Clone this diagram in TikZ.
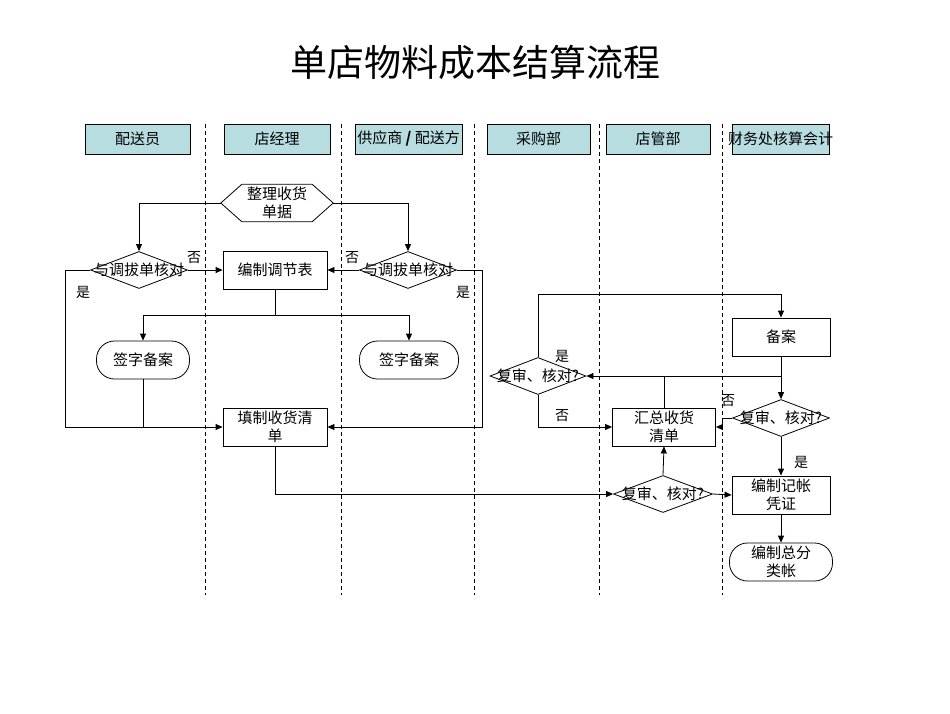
\documentclass[tikz,border=0pt]{standalone}
\usepackage{fontspec}
\setmainfont{Noto Sans CJK SC}
\usetikzlibrary{arrows.meta,shapes.geometric,calc}
\definecolor{hdr}{RGB}{183,221,225}
\tikzset{
  every node/.style={font=\fontsize{15}{18}\selectfont, inner sep=0pt},
  hdrbox/.style={draw, fill=hdr, minimum width=#1, minimum height=30, line width=0.9pt},
  procbox/.style={draw, line width=0.8pt, minimum width=#1, minimum height=38, align=center},
  termbox/.style={draw, line width=0.8pt, rounded corners=18, minimum width=#1, minimum height=38, align=center},
  dec/.style={draw, line width=0.8pt, diamond, minimum width=#1, minimum height=37},
  lane/.style={line width=0.7pt, dash pattern=on 4pt off 3pt},
  conn/.style={line width=0.8pt},
  arr/.style={-{Triangle[length=7pt,width=6pt]}},
  lbl/.style={font=\fontsize{14}{16}\selectfont},
}
\begin{document}
\begin{tikzpicture}[x=1pt,y=-1pt]
\useasboundingbox (0,0) rectangle (950,713);

% title
\node[font=\fontsize{37}{40}\selectfont] (title) at (475,62) {单店物料成本结算流程};

% headers
\node[hdrbox=105] (h1) at (137.5,139) {配送员};
\node[hdrbox=106] (h2) at (277,139) {店经理};
\node[hdrbox=107] (h3) at (408.5,139) {供应商 \textbf{/} 配送方};
\node[hdrbox=103] (h4) at (538.5,139) {采购部};
\node[hdrbox=104] (h5) at (658,139) {店管部};
\node[hdrbox=97] (h6) at (780.5,139) {};
\node (h6t) at (780.5,139) {财务处核算会计};

% lanes
\foreach \x/\n in {205/l1,341/l2,474/l3,599/l4,722/l5}{
  \coordinate (\n a) at (\x,124);
  \coordinate (\n b) at (\x,595);
  \draw[lane] (\n a) -- (\n b);
}

% hexagon
\node[minimum width=112, minimum height=37, align=center] (sort) at (277,203) {整理收货\\单据};
\draw[line width=0.8pt] (sort.west) -- ($(sort.north west)+(21,0)$) -- ($(sort.north east)+(-21,0)$)
  -- (sort.east) -- ($(sort.south east)+(-21,0)$) -- ($(sort.south west)+(21,0)$) -- cycle;

% left part nodes
\node[dec=97] (d1) at (139,270) {};
\node (d1t) at (139,270) {与调拔单核对};
\node[procbox=104] (adj) at (275,270) {编制调节表};
\node[dec=97] (d2) at (408,270) {};
\node (d2t) at (408,270) {与调拔单核对};
\node[termbox=93] (s1) at (143,360) {签字备案};
\node[termbox=99] (s2) at (409,360) {签字备案};
\node[procbox=104] (fill) at (275,427) {填制收货清\\单};

% right part nodes
\node[dec=96] (d3) at (538,376) {};
\node (d3t) at (538,376) {复审、核对?};
\node[procbox=103] (hz) at (664,427) {汇总收货\\清单};
\node[procbox=98] (ba) at (781,337) {备案};
\node[dec=97] (d4) at (781,418) {};
\node (d4t) at (781,418) {复审、核对?};
\node[procbox=98] (jz) at (781,495) {编制记帐\\凭证};
\node[dec=99] (d5) at (663,494) {};
\node (d5t) at (663,494) {复审、核对?};
\node[termbox=103] (zf) at (781,562) {编制总分\\类帐};

% connectors left
\draw[conn,arr] (sort.west) -| (d1.north);
\draw[conn,arr] (sort.east) -| (d2.north);
\draw[conn,arr] (d1.east) -- (adj.west);
\draw[conn,arr] (d2.west) -- (adj.east);
\draw[conn] (adj.south) -- ++(0,26) coordinate (split);
\draw[conn,arr] (split) -| (s1.north);
\draw[conn,arr] (split) -| (s2.north);
\coordinate (lc) at (65,427);
\coordinate (rc) at (482,427);
\draw[conn,arr] (d1.west) -| (lc) -- (fill.west);
\draw[conn] (s1.south) -- (s1.south |- fill.west);
\draw[conn,arr] (d2.east) -| (rc) -- (fill.east);
\draw[conn,arr] (fill.south) |- (d5.west);

% connectors right
\draw[conn,arr] (d3.north) -- ++(0,-63) -| (ba.north);
\draw[conn,arr] (d3.south) |- (hz.west);
\draw[conn,arr] (hz.north) |- (d3.east);
\draw[conn] (hz.north |- d3.east) -- (ba.south |- d3.east);
\draw[conn,arr] (ba.south) -- (d4.north);
\draw[conn,arr] (d4.west) -- ++(-10,0) |- (hz.east);
\draw[conn,arr] (d4.south) -- (jz.north);
\draw[conn,arr] (d5.north) -- (hz.south);
\draw[conn,arr] (d5.east) -- (jz.west);
\draw[conn,arr] (jz.south) -- (zf.north);

% labels
\node[lbl] (n1) at (194,258) {否};
\node[lbl] (n2) at (352,258) {否};
\node[lbl] (y1) at (83,292) {是};
\node[lbl] (y2) at (463,292) {是};
\node[lbl] (y3) at (562,356) {是};
\node[lbl] (n3) at (562,416) {否};
\node[lbl] (n4) at (728,401) {否};
\node[lbl] (y4) at (801,462) {是};
\end{tikzpicture}
\end{document}
